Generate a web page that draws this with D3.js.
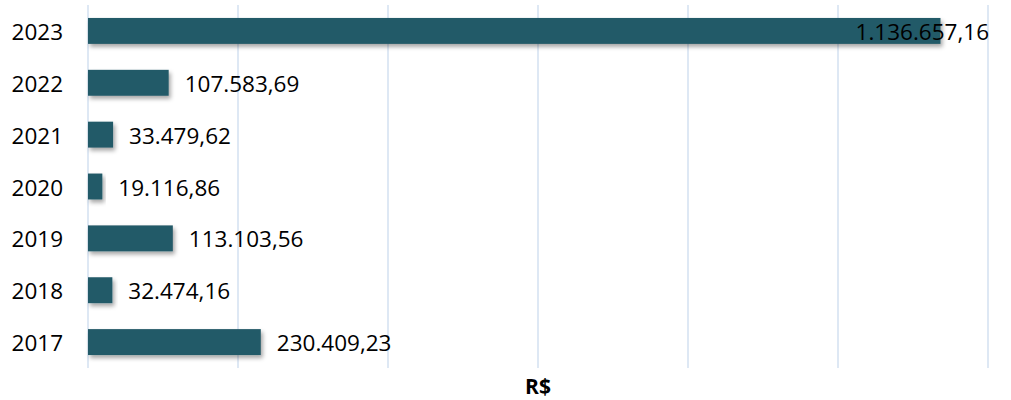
<!DOCTYPE html>
<html>
<head>
<meta charset="utf-8">
<script src="https://cdn.jsdelivr.net/npm/d3@7"></script>
<style>
  body { margin: 0; background: #fff; }
  text { font-family: "Open Sans", Lato, sans-serif; }
</style>
</head>
<body>
<div id="chart"></div>
<script>
/* chart data: years and amounts in R$ */
var years = ["2023", "2022", "2021", "2020", "2019", "2018", "2017"];
var values = [1136657.16, 107583.69, 33479.62, 19116.86, 113103.56, 32474.16, 230409.23];
var gridTicks = [0, 200000, 400000, 600000, 800000, 1000000, 1200000];

var width = 1011, height = 400;
var plotLeft = 88, plotRight = 988, plotTop = 5, plotBottom = 368;

var svg = d3.select("#chart").append("svg")
    .attr("width", width)
    .attr("height", height);

/* drop shadow like the office chart */
var defs = svg.append("defs");
defs.append("filter")
    .attr("id", "shadow")
    .attr("x", "-10%").attr("y", "-30%")
    .attr("width", "130%").attr("height", "180%")
    .append("feDropShadow")
    .attr("dx", 2).attr("dy", 3)
    .attr("stdDeviation", 2)
    .attr("flood-color", "#000")
    .attr("flood-opacity", 0.35);

var x = d3.scaleLinear().domain([0, 1200000]).range([plotLeft, plotRight]);
var y = d3.scaleBand().domain(years).range([plotTop, plotBottom]).paddingInner(0.5).paddingOuter(0.25);

/* vertical grid lines */
svg.append("g").selectAll("line")
    .data(gridTicks)
    .enter().append("line")
    .attr("x1", d => x(d)).attr("x2", d => x(d))
    .attr("y1", plotTop).attr("y2", plotBottom)
    .attr("stroke", "#d3e0f1")
    .attr("stroke-width", 1.5);

/* bars */
svg.append("g").selectAll("rect")
    .data(values)
    .enter().append("rect")
    .attr("x", x(0))
    .attr("y", (d, i) => y(years[i]))
    .attr("width", d => x(d) - x(0))
    .attr("height", y.bandwidth())
    .attr("fill", "#245a68")
    .attr("filter", "url(#shadow)");

/* year labels */
svg.append("g").selectAll("text")
    .data(years)
    .enter().append("text")
    .attr("x", 63)
    .attr("y", d => y(d) + y.bandwidth() / 2)
    .attr("dy", "0.4em")
    .attr("text-anchor", "end")
    .style("font-size", "22.5px")
    .attr("fill", "#000")
    .text(d => d);

/* value labels, brazilian number format */
var br = d3.formatLocale({decimal: ",", thousands: ".", grouping: [3], currency: ["R$", ""]});
var fmt = br.format(",.2f");

svg.append("g").selectAll("text")
    .data(values)
    .enter().append("text")
    .attr("y", (d, i) => y(years[i]) + y.bandwidth() / 2)
    .attr("dy", "0.4em")
    .style("font-size", "22.5px")
    .attr("fill", "#000")
    .text(d => fmt(d))
    .attr("x", function(d) {
        var w = this.getComputedTextLength();
        return Math.min(x(d) + 16, plotRight + 1 - w);
    });

/* axis title */
svg.append("text")
    .attr("x", (plotLeft + plotRight) / 2)
    .attr("y", 394)
    .attr("text-anchor", "middle")
    .style("font-size", "21px")
    .style("font-weight", "bold")
    .attr("fill", "#000")
    .text("R$");
</script>
</body>
</html>
